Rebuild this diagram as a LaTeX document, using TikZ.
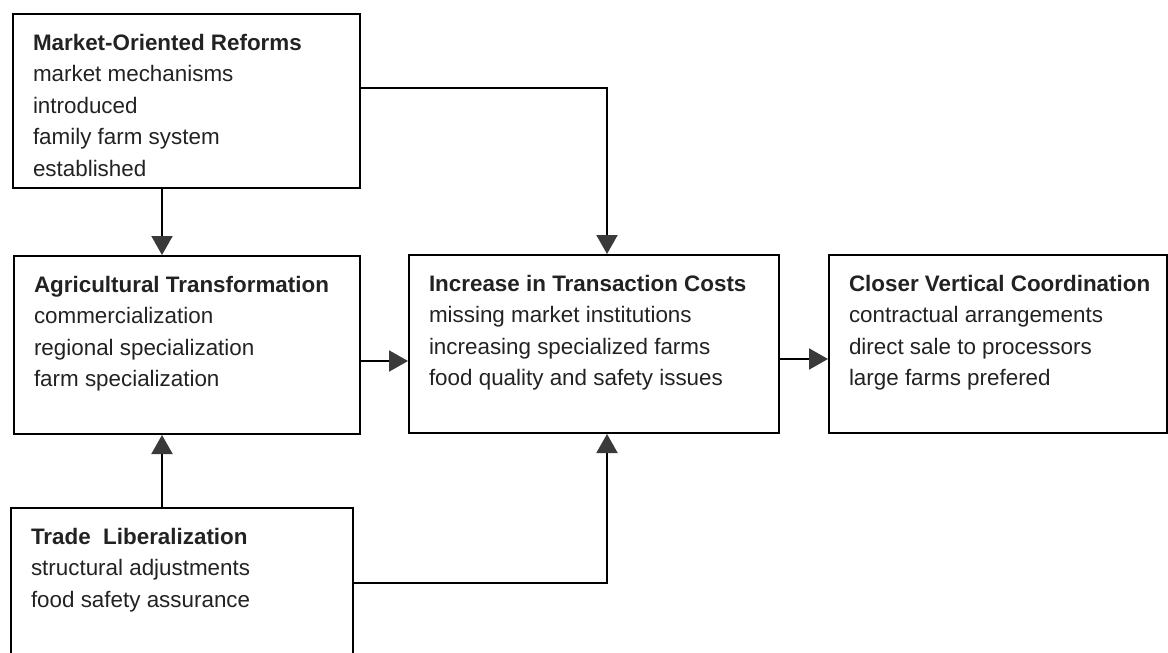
\documentclass[tikz,border=0pt]{standalone}
\usepackage{fontspec}
\setmainfont{Liberation Sans}
\usetikzlibrary{arrows.meta, calc}

\definecolor{inkgray}{HTML}{222222}
\definecolor{tipgray}{HTML}{3A3A3A}

\tikzset{
  stage/.style={draw, line width=1pt, inner sep=0pt, anchor=north west,
    text=inkgray, font=\fontsize{11.2pt}{15.8pt}\selectfont},
  flow/.style={line width=1pt,
    -{Triangle[length=9.5pt,width=10.5pt,color=tipgray]}},
}

% box text: width, height, title, lines
\newcommand{\stagetext}[4]{%
  \parbox[c][#2][t]{#1}{\raggedright\leftskip=10pt
    \rule{0pt}{18pt}\textbf{#3}\\#4}}

\begin{document}
\begin{tikzpicture}[x=0.5pt, y=-0.5pt]
    % Fix the frame
    \clip[use as bounding box] (0,0) rectangle (1168,653);

    % Draw the boxes
    \node[stage] (reform) at (12,13) {\stagetext{173.5pt}{87pt}{Market-Oriented Reforms}
      {market mechanisms\\introduced\\family farm system\\established}};
    \node[stage] (agri) at (13,255) {\stagetext{173pt}{89pt}{Agricultural Transformation}
      {commercialization\\regional specialization\\farm specialization}};
    \node[stage] (cost) at (408,254) {\stagetext{185pt}{89pt}{Increase in Transaction Costs}
      {missing market institutions\\increasing specialized farms\\food quality and safety issues}};
    \node[stage] (vert) at (828,254) {\stagetext{169pt}{89pt}{Closer Vertical Coordination}
      {contractual arrangements\\direct sale to processors\\large farms prefered}};
    \node[stage] (trade) at (10,507) {\stagetext{171pt}{79pt}{Trade~~Liberalization}
      {structural adjustments\\food safety assurance}};

    % Points where the arrows meet the boxes
    \coordinate (ra) at ($(agri.north)+(-25,0)$);
    \coordinate (ta) at ($(agri.south)+(-25,0)$);
    \coordinate (rc) at ($(cost.north)+(13,0)$);
    \coordinate (tc) at ($(cost.south)+(13,0)$);
    \coordinate (ac) at ($(agri.east)+(0,16)$);
    \coordinate (cv) at ($(cost.east)+(0,15)$);

    % Draw the arrows
    \draw[flow] (ra |- reform.south) -- (ra);
    \draw[flow] (ta |- trade.north) -- (ta);
    \draw[flow] ($(reform.east)+(0,-13)$) -| (rc);
    \draw[flow] ($(trade.east)+(0,-4)$) -| (tc);
    \draw[flow] (ac) -- (ac -| cost.west);
    \draw[flow] (cv) -- (cv -| vert.west);
\end{tikzpicture}
\end{document}
